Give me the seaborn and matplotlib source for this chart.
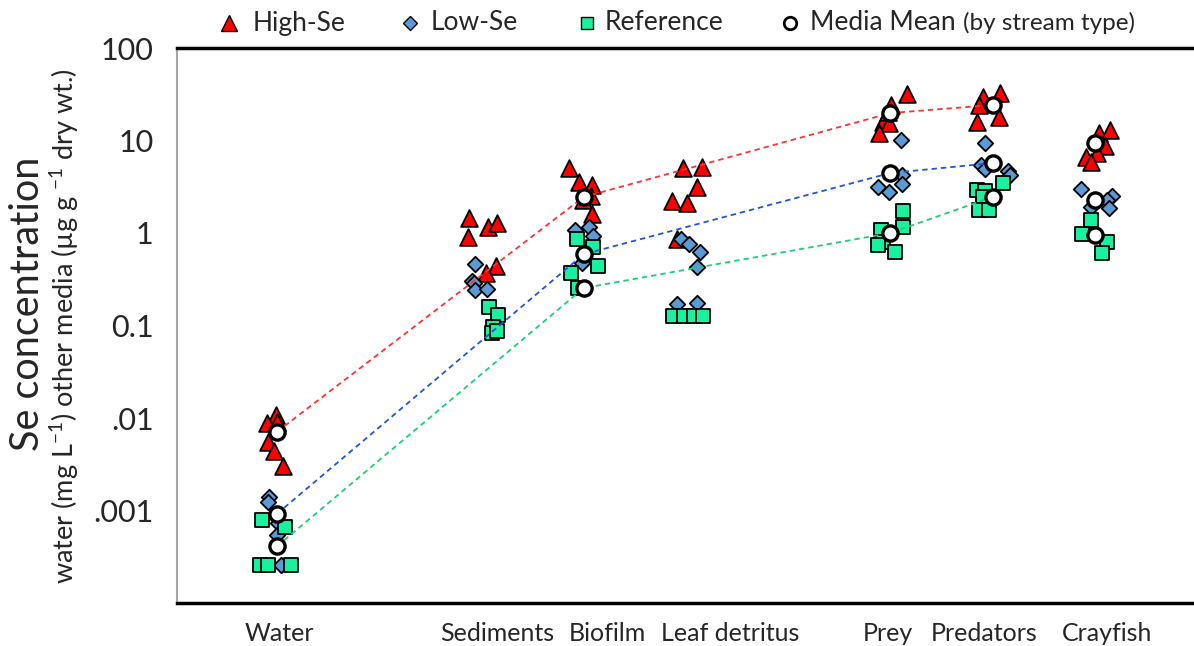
import matplotlib
matplotlib.use("Agg")
import pandas as pd
import matplotlib.pyplot as plt
import seaborn as sns
from matplotlib.lines import Line2D

# media along the x axis
categories = ["Water", "Sediments", "Biofilm", "Leaf detritus", "Prey", "Predators", "Crayfish"]

# Se concentration of each sample, per stream type
high_se = {
    "Water": [0.0108, 0.0088, 0.0091, 0.0055, 0.0044, 0.0030],
    "Sediments": [1.45, 0.91, 1.16, 1.28, 0.44, 0.37],
    "Biofilm": [5.04, 3.56, 3.30, 2.27, 2.51, 1.60],
    "Leaf detritus": [5.04, 5.17, 3.14, 2.22, 2.11, 0.86],
    "Prey": [31.8, 24.2, 15.8, 15.5, 12.0, 20.3],
    "Predators": [29.5, 32.6, 24.2, 17.9, 15.8],
    "Crayfish": [12.0, 13.0, 8.7, 6.6, 7.3, 5.86],
}
low_se = {
    "Water": [0.0014, 0.00124, 0.00073, 0.00054, 0.00026],
    "Sediments": [0.46, 0.30, 0.29, 0.242, 0.248],
    "Biofilm": [1.08, 1.16, 0.93, 0.47],
    "Leaf detritus": [0.86, 0.76, 0.62, 0.43, 0.171, 0.175],
    "Prey": [10.1, 4.24, 3.39, 3.14, 2.77],
    "Predators": [9.4, 5.43, 4.92, 4.68, 4.24],
    "Crayfish": [3.0, 2.51, 2.27, 1.91, 1.86],
}
reference = {
    "Water": [0.00079, 0.00066, 0.00026, 0.00026, 0.00026],
    "Sediments": [0.158, 0.13, 0.096, 0.083, 0.087],
    "Biofilm": [0.86, 0.71, 0.44, 0.37, 0.254],
    "Leaf detritus": [0.127, 0.127, 0.127, 0.127],
    "Prey": [1.73, 1.16, 1.08, 0.80, 0.74, 0.62],
    "Predators": [3.47, 2.92, 2.85, 2.45, 1.77, 1.77],
    "Crayfish": [1.38, 0.975, 0.80, 0.61],
}

# horizontal scatter of each sample inside its category (as drawn in the chart)
high_se_off = {
    "Water": [-0.01, -0.10, 0.00, -0.09, -0.03, 0.06],
    "Sediments": [-0.12, -0.13, 0.06, 0.15, 0.14, 0.04],
    "Biofilm": [-0.14, -0.05, 0.08, -0.01, 0.07, 0.08],
    "Leaf detritus": [-0.03, 0.16, 0.11, -0.14, 0.01, -0.09],
    "Prey": [0.16, 0.01, -0.07, -0.01, -0.11, -0.02],
    "Predators": [-0.09, 0.07, -0.13, 0.06, -0.15],
    "Crayfish": [0.04, 0.15, 0.10, -0.09, 0.02, -0.04],
}
low_se_off = {
    "Water": [-0.08, -0.09, 0.01, 0.00, 0.04],
    "Sediments": [-0.06, -0.09, -0.07, -0.06, 0.05],
    "Biofilm": [-0.08, 0.05, 0.09, -0.02],
    "Leaf detritus": [-0.05, 0.03, 0.14, 0.11, -0.09, 0.11],
    "Prey": [0.10, 0.11, 0.11, -0.12, -0.01],
    "Predators": [-0.07, -0.11, -0.07, 0.15, 0.17],
    "Crayfish": [-0.14, 0.17, 0.12, -0.04, 0.14],
}
reference_off = {
    "Water": [-0.15, 0.08, -0.17, -0.09, 0.14],
    "Sediments": [0.07, 0.16, 0.11, 0.10, 0.15],
    "Biofilm": [-0.07, 0.09, 0.14, -0.12, -0.06],
    "Leaf detritus": [-0.13, -0.02, 0.08, 0.17],
    "Prey": [0.12, 0.12, -0.09, -0.07, -0.12, 0.05],
    "Predators": [0.10, -0.15, -0.07, -0.09, -0.13, -0.04],
    "Crayfish": [-0.04, -0.13, 0.12, 0.07],
}

# media means by stream type
mean_cats = ["Water", "Biofilm", "Prey", "Predators", "Crayfish"]
mean_high = [0.0071, 2.45, 19.8, 24.2, 9.4]
mean_low = [0.00092, 0.59, 4.45, 5.7, 2.3]
mean_ref = [0.00041, 0.254, 1.0, 2.45, 0.95]
line_cats = ["Water", "Biofilm", "Prey", "Predators"]

cat_pos = dict(zip(categories, [1, 3, 4, 5, 7, 8, 9]))
label_pos = [1.02, 3.15, 4.23, 5.43, 6.98, 7.92, 9.12]

sns.set_style("white")
plt.rcParams["font.family"] = ["Lato", "DejaVu Sans"]
plt.rcParams["mathtext.default"] = "regular"

W, H = 1194, 646
fig = plt.figure(figsize=(W / 100, H / 100), dpi=100)
ax = fig.add_axes([177 / W, 43 / H, 1 - 177 / W, 555 / H])


def to_frame(vals, offs):
    rows = []
    for cat in categories:
        for v, o in zip(vals[cat], offs[cat]):
            rows.append({"x": cat_pos[cat] + o, "value": v})
    return pd.DataFrame(rows)


groups = [
    ("High-Se", high_se, high_se_off, "^", "#FF0000", 145),
    ("Low-Se", low_se, low_se_off, "D", "#5B9BD5", 62),
    ("Reference", reference, reference_off, "s", "#19F0A0", 95),
]
for name, vals, offs, mk, col, size in groups:
    sns.scatterplot(data=to_frame(vals, offs), x="x", y="value", marker=mk, color=col,
                    s=size, edgecolor="black", linewidth=1.3, ax=ax, zorder=3)

line_colors = {"High-Se": "#FF3333", "Low-Se": "#2255DD", "Reference": "#22CC77"}
for name, means in [("High-Se", mean_high), ("Low-Se", mean_low), ("Reference", mean_ref)]:
    mdf = pd.DataFrame({"x": [cat_pos[c] for c in mean_cats], "value": means, "cat": mean_cats})
    ldf = mdf[mdf["cat"].isin(line_cats)]
    sns.lineplot(data=ldf, x="x", y="value", color=line_colors[name], linestyle=(0, (3, 2.2)),
                 linewidth=1.3, sort=False, estimator=None, ax=ax, zorder=4)
    sns.scatterplot(data=mdf, x="x", y="value", marker="o", color="white", s=120,
                    edgecolor="black", linewidth=2.4, ax=ax, zorder=5)

ax.set_yscale("log")
ax.set_ylim(1e-4, 100)
ax.set_xlim(0.022, 9.97)
ax.set_yticks([1e-4, 1e-3, 1e-2, 1e-1, 1, 10, 100])
ax.set_yticklabels(["", ".001", ".01", "0.1", "1", "10", "100"])
ax.minorticks_off()
ax.set_xticks(label_pos)
ax.set_xticklabels(categories)
ax.tick_params(axis="y", direction="inout", length=10, width=1.5, color="#A6A6A6",
               labelsize=22, pad=12)
ax.tick_params(axis="x", length=0, labelsize=18, pad=14)
ax.set_xlabel("")
ax.set_ylabel("")

ax.spines["right"].set_visible(False)
ax.spines["left"].set_color("#A6A6A6")
ax.spines["left"].set_linewidth(1.5)
for side in ["top", "bottom"]:
    ax.spines[side].set_color("black")
    ax.spines[side].set_linewidth(2.5)

fig.text(28 / W, 0.530, "Se concentration", rotation=90, ha="center", va="center", fontsize=28.5)
fig.text(65 / W, 0.495, "water (mg L$^{-1}$) other media (µg g $^{-1}$ dry wt.)",
         rotation=90, ha="center", va="center", fontsize=19.5)

# legend row along the top, laid out entry by entry
leg_y = 1 - 23 / H
leg_entries = [
    (229, 253, "High-Se", dict(marker="^", markerfacecolor="#FF0000", markersize=11)),
    (410, 431, "Low-Se", dict(marker="D", markerfacecolor="#5B9BD5", markersize=7.5)),
    (587, 605, "Reference", dict(marker="s", markerfacecolor="#19F0A0", markersize=9)),
    (790, 810, "Media Mean", dict(marker="o", markerfacecolor="white", markersize=9, markeredgewidth=2)),
]
for mx, tx, label, mkw in leg_entries:
    fig.add_artist(Line2D([mx / W], [leg_y], transform=fig.transFigure, linestyle="none",
                          markeredgecolor="black", **mkw))
    t = fig.text(tx / W, leg_y, label, ha="left", va="center", fontsize=19)

fig.canvas.draw()
last = t.get_window_extent()
fx, fy = fig.transFigure.inverted().transform((last.x1 + 7, (last.y0 + last.y1) / 2))
fig.text(fx, fy, "(by stream type)", ha="left", va="center", fontsize=17.5)

fig.savefig("out.png", dpi=100)
